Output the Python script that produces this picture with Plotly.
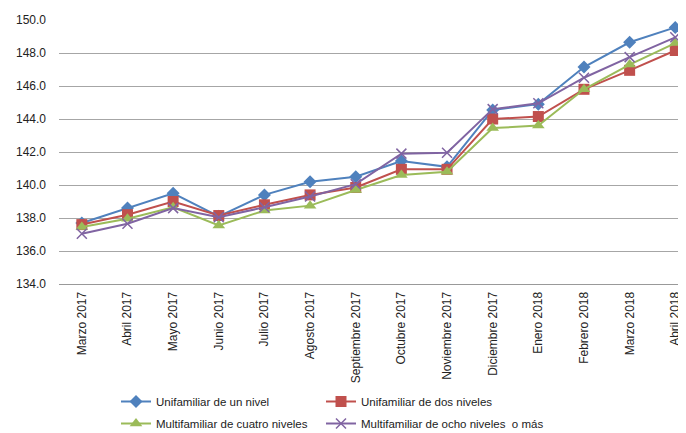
import plotly.graph_objects as go

categories = ["Marzo 2017", "Abril 2017", "Mayo 2017", "Junio 2017", "Julio 2017",
              "Agosto 2017", "Septiembre 2017", "Octubre 2017", "Noviembre 2017",
              "Diciembre 2017", "Enero 2018", "Febrero 2018", "Marzo 2018", "Abril 2018"]

uni_un_nivel = [137.7, 138.6, 139.5, 138.1, 139.4, 140.2, 140.5, 141.45, 141.1,
                144.55, 144.9, 147.15, 148.65, 149.55]
uni_dos_niveles = [137.6, 138.2, 139.0, 138.15, 138.8, 139.4, 139.85, 140.95, 140.95,
                   144.0, 144.15, 145.8, 146.95, 148.15]
multi_cuatro = [137.45, 137.95, 138.65, 137.55, 138.45, 138.75, 139.7, 140.6, 140.8,
                143.45, 143.6, 145.8, 147.3, 148.6]
multi_ocho = [137.05, 137.65, 138.6, 138.05, 138.65, 139.3, 140.05, 141.9, 141.95,
              144.6, 144.95, 146.5, 147.75, 148.95]

names = ["Unifamiliar de un nivel", "Unifamiliar de dos niveles",
         "Multifamiliar de cuatro niveles", "Multifamiliar de ocho niveles  o más"]
series = [uni_un_nivel, uni_dos_niveles, multi_cuatro, multi_ocho]
colors = ["#4F81BD", "#C0504D", "#9BBB59", "#8064A2"]
symbols = ["diamond", "square", "triangle-up", "x-thin-open"]
sizes = [10, 11, 11, 10]
legend_ids = ["legend", "legend2", "legend3", "legend4"]

x_idx = list(range(len(categories)))

fig = go.Figure()
for nm, vals, col, sym, sz, lg in zip(names, series, colors, symbols, sizes, legend_ids):
    fig.add_trace(go.Scatter(
        x=x_idx, y=vals, name=nm, mode="lines+markers",
        line=dict(color=col, width=2),
        marker=dict(symbol=sym, size=sz, color=col,
                    line=dict(color=col, width=1.5 if sym == "x-thin-open" else 0)),
        legend=lg,
    ))

# The page body has an 8px margin, so figure coordinates are offset by 8px.
def leg(xpx, ypx):
    return dict(orientation="h", xref="container", yref="container",
                x=xpx / 686, y=1 - ypx / 433, xanchor="left", yanchor="middle",
                font=dict(size=11.5, color="#222222"), bgcolor="rgba(0,0,0,0)",
                itemwidth=30, tracegroupgap=0)

fig.update_layout(
    width=686, height=433,
    margin=dict(l=51, r=0, t=12, b=157, autoexpand=False),
    plot_bgcolor="white", paper_bgcolor="white",
    font=dict(family="Liberation Sans, Arial, sans-serif", size=12, color="#222222"),
    xaxis=dict(
        tickmode="array", tickvals=x_idx, ticktext=categories,
        tickangle=-90, range=[-0.5, 13.41], showgrid=False,
        showline=True, linecolor="#999999", linewidth=1,
        ticks="", tickfont=dict(size=12, color="#222222"),
        zeroline=False, automargin=False, ticklabelstandoff=2,
    ),
    yaxis=dict(
        range=[134, 150], dtick=2, tickformat=".1f",
        showgrid=True, gridcolor="#A6A6A6", gridwidth=1,
        zeroline=False, showline=False, ticks="",
        tickfont=dict(size=12, color="#222222"), automargin=False,
        ticklabelstandoff=12,
    ),
    legend=leg(108, 393.5),
    legend2=leg(313, 393.5),
    legend3=leg(108, 415.5),
    legend4=leg(313, 415.5),
    showlegend=True,
)

fig.write_html("out.html")
